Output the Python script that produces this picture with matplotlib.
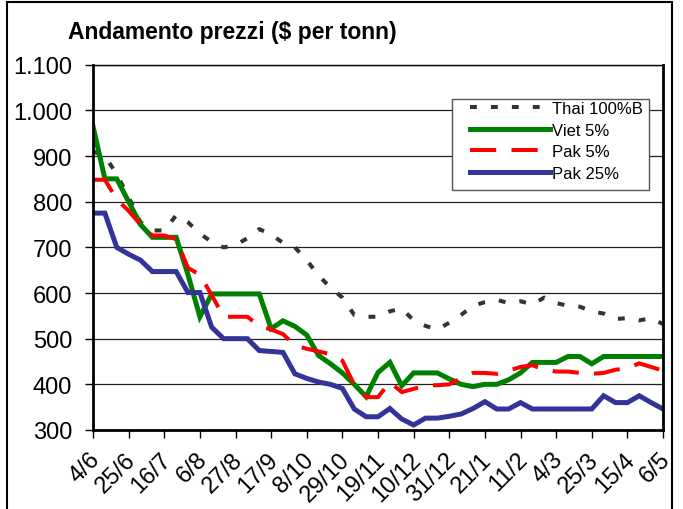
import matplotlib
matplotlib.use("Agg")
import matplotlib.pyplot as plt
import matplotlib.transforms as mtransforms
from matplotlib.patches import Rectangle

plt.rcParams['font.family'] = ['Liberation Sans', 'DejaVu Sans']

# weekly prices, $ per tonn (one point per week from 4/6 to 6/5)
thai_100b = [910, 900, 860, 810, 755, 737, 737, 770, 755, 730, 712, 700, 705, 720, 740, 728, 710,
             700, 672, 638, 612, 590, 552, 548, 548, 560, 566, 540, 528, 520, 535, 552, 572, 580,
             585, 578, 582, 575, 590, 578, 572, 570, 560, 555, 543, 545, 540, 545, 532]
viet_5 = [965, 850, 850, 800, 750, 722, 722, 722, 640, 548, 598, 598, 598, 598, 598, 522, 539,
          527, 508, 463, 445, 425, 400, 373, 426, 448, 397, 425, 425, 425, 412, 400, 395, 400,
          400, 410, 425, 448, 448, 448, 461, 461, 445, 461, 461, 461, 461, 461, 461]
pak_5 = [848, 848, 805, 780, 750, 726, 726, 718, 655, 640, 595, 548, 548, 548, 528, 520, 510,
         485, 478, 472, 466, 452, 399, 372, 372, 405, 383, 390, 398, 398, 400, 413, 425, 425,
         423, 430, 438, 442, 432, 428, 428, 425, 423, 425, 432, 435, 446, 438, 430]
pak_25 = [775, 775, 700, 685, 672, 647, 647, 647, 601, 601, 525, 500, 500, 500, 474, 472, 470,
          423, 413, 405, 400, 391, 346, 329, 329, 347, 324, 311, 326, 326, 330, 335, 347, 362,
          346, 346, 360, 346, 346, 346, 346, 346, 346, 375, 360, 360, 375, 360, 346]

date_labels = ['4/6', '25/6', '16/7', '6/8', '27/8', '17/9', '8/10', '29/10', '19/11',
               '10/12', '31/12', '21/1', '11/2', '4/3', '25/3', '15/4', '6/5']
y_ticks = [300, 400, 500, 600, 700, 800, 900, 1000, 1100]
y_labels = ['300', '400', '500', '600', '700', '800', '900', '1.000', '1.100']

fig = plt.figure(figsize=(6.83, 5.10), dpi=100)
ax = fig.add_axes([93 / 683, 1 - 431 / 510, 570 / 683, 365.3 / 510])

weeks = list(range(len(viet_5)))
ax.plot(weeks, thai_100b, color='#333333', lw=2.9, linestyle=(0, (1.7, 3.5)), label='Thai 100%B')
ax.plot(weeks, viet_5, color='#008000', lw=3.6, solid_joinstyle='miter', label='Viet 5%')
ax.plot(weeks, pak_5, color='#ff0000', lw=2.9, linestyle=(0, (6.5, 3.8)), label='Pak 5%')
ax.plot(weeks, pak_25, color='#333399', lw=3.6, solid_joinstyle='miter', label='Pak 25%')

ax.set_xlim(0, len(weeks) - 1)
ax.set_ylim(300, 1100)
ax.set_yticks(y_ticks)
ax.set_yticklabels(y_labels, fontsize=17)
ax.set_xticks(range(0, len(weeks), 3))
ax.set_xticklabels(date_labels, fontsize=17, rotation=45, ha='right', va='top',
                   rotation_mode='anchor')
ax.tick_params(axis='both', direction='out', length=6, width=1, color='black')
ax.tick_params(axis='y', pad=9)
ax.tick_params(axis='x', pad=7)

# nudge the slanted date labels a little to the left of their ticks
shift = mtransforms.ScaledTranslation(-4 / 100, 0, fig.dpi_scale_trans)
for lbl in ax.get_xticklabels():
    lbl.set_transform(lbl.get_transform() + shift)

ax.grid(axis='y', color='#222222', lw=0.9)
ax.set_axisbelow(True)
for side in ['left', 'bottom', 'right']:
    ax.spines[side].set_linewidth(2)
ax.spines['top'].set_linewidth(1)

# legend box (white, drawn over the grid)
ax.add_patch(Rectangle((359 / 570, 240 / 365.3), 197 / 570, 91 / 365.3, transform=ax.transAxes,
                       facecolor='white', edgecolor='#555555', lw=1, zorder=4))
leg = ax.legend(loc='upper left', bbox_to_anchor=(377 / 570, 0.901), fontsize=12, frameon=False,
                handlelength=4.8, handletextpad=0.1, labelspacing=0.4, borderpad=0,
                borderaxespad=0)
leg.set_zorder(5)

fig.text(68 / 683, 1 - 32 / 510, 'Andamento prezzi ($ per tonn)', fontsize=16.5,
         fontweight='bold', ha='left', va='center')

fig.patches.append(Rectangle((7 / 683, -0.02), 665 / 683, 1.015, transform=fig.transFigure,
                             fill=False, edgecolor='black', lw=1.5))

fig.savefig('out.png', dpi=100)
